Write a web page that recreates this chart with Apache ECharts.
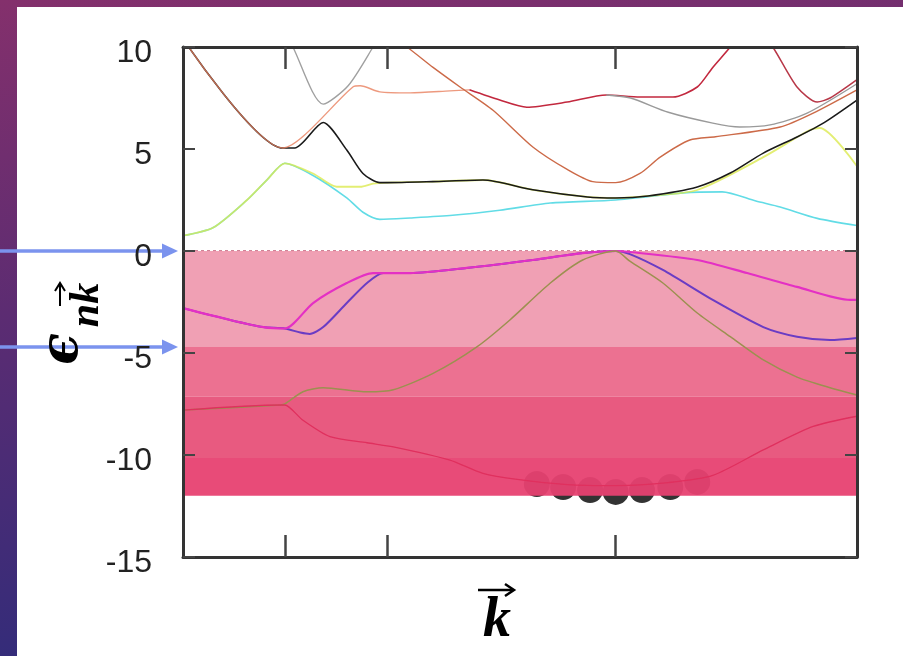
<!DOCTYPE html>
<html>
<head>
<meta charset="utf-8">
<script src="https://cdn.jsdelivr.net/npm/echarts@6/dist/echarts.min.js"></script>
<style>
  html, body { margin: 0; padding: 0; }
  body {
    width: 903px; height: 656px; overflow: hidden; position: relative;
    background: linear-gradient(172deg, #84306c 0%, #5c2c72 40%, #262c7c 100%);
  }
  #panel { position: absolute; left: 17px; top: 7px; right: 0; bottom: 0; background: #fff; }
  #chart { position: absolute; left: 0; top: 0; width: 903px; height: 656px; }
</style>
</head>
<body>
<div id="panel"></div>
<div id="chart"></div>
<script>
// k path (0..1), high-symmetry points
const kTicks = [0.151, 0.303, 0.642];

// conduction bands [k, E]
const cyanBand = [[0,0.75],[0.045,1.15],[0.095,2.5],[0.125,3.5],[0.151,4.3],[0.193,3.7],[0.243,2.6],[0.267,1.9],[0.292,1.55],[0.337,1.62],[0.40,1.75],[0.47,2.0],[0.545,2.35],[0.642,2.5],[0.742,2.85],[0.80,2.9],[0.85,2.45],[0.886,2.16],[0.941,1.6],[1.0,1.25]];
const yellowBand = [[0,0.75],[0.045,1.15],[0.095,2.5],[0.125,3.5],[0.151,4.3],[0.193,3.8],[0.228,3.15],[0.263,3.15],[0.282,3.3],[0.303,3.35],[0.37,3.4],[0.445,3.48],[0.519,3.0],[0.6,2.65],[0.642,2.6],[0.69,2.7],[0.763,2.99],[0.861,4.6],[0.93,5.93],[0.945,6.03],[1.0,4.15]];
const blackBand = [[0,10.4],[0.148,5.05],[0.166,5.05],[0.208,6.3],[0.243,4.95],[0.267,3.8],[0.292,3.35],[0.303,3.35],[0.37,3.4],[0.445,3.48],[0.519,3.0],[0.6,2.65],[0.642,2.6],[0.69,2.7],[0.763,3.14],[0.812,3.82],[0.861,4.8],[0.911,5.59],[0.95,6.27],[1.0,7.4]];
const orangeBand = [[0,10.4],[0.148,5.05],[0.252,8.04],[0.263,8.1],[0.292,7.8],[0.337,7.75],[0.396,7.85],[0.425,7.9]];
const crimsonBand = [[0.425,7.9],[0.47,7.4],[0.51,7.05],[0.57,7.3],[0.628,7.65],[0.678,7.55],[0.727,7.55],[0.763,8.04],[0.786,9.0],[0.812,10],[0.83,10.8]];
const brownBand = [[0.31,10.4],[0.332,10],[0.371,9.0],[0.411,8.04],[0.46,6.9],[0.519,5.1],[0.57,4.0],[0.608,3.4],[0.642,3.35],[0.678,3.8],[0.708,4.6],[0.752,5.44],[0.79,5.6],[0.886,6.08],[0.935,6.76],[1.0,7.9]];
const greyLeft = [[0.155,10.5],[0.163,10],[0.208,7.2],[0.245,8.1],[0.282,10],[0.29,10.5]];
const greyRight = [[0.628,7.65],[0.664,7.5],[0.72,6.8],[0.786,6.27],[0.826,6.08],[0.871,6.18],[0.926,6.76],[1.0,8.2]];
const redRight = [[0.86,10.5],[0.875,10],[0.911,8.04],[0.941,7.3],[0.96,7.5],[1.0,8.4]];

// valence bands [k, E]
const magentaBand = [[0,-2.8],[0.07,-3.38],[0.119,-3.73],[0.151,-3.8],[0.193,-2.55],[0.243,-1.57],[0.282,-1.08],[0.337,-1.08],[0.421,-0.83],[0.519,-0.44],[0.593,-0.1],[0.642,0],[0.663,-0.05],[0.763,-0.44],[0.837,-1.08],[0.911,-1.76],[0.99,-2.4],[1.0,-2.4]];
const purpleBand = [[0,-2.8],[0.07,-3.38],[0.119,-3.73],[0.151,-3.8],[0.174,-4.0],[0.188,-4.07],[0.208,-3.73],[0.243,-2.55],[0.273,-1.57],[0.297,-1.08],[0.337,-1.08],[0.421,-0.83],[0.519,-0.44],[0.593,-0.1],[0.642,0],[0.663,-0.15],[0.712,-0.93],[0.786,-2.4],[0.861,-3.73],[0.911,-4.2],[0.96,-4.36],[1.0,-4.26]];
const oliveBand = [[0,-7.8],[0.145,-7.55],[0.151,-7.5],[0.178,-6.9],[0.208,-6.7],[0.273,-6.9],[0.312,-6.8],[0.371,-6.0],[0.436,-4.7],[0.485,-3.38],[0.545,-1.57],[0.593,-0.44],[0.642,0],[0.663,-0.5],[0.712,-1.57],[0.763,-3.04],[0.812,-4.2],[0.861,-5.34],[0.911,-6.18],[0.96,-6.7],[1.0,-7.06]];
const redBand = [[0,-7.8],[0.145,-7.55],[0.151,-7.55],[0.178,-8.3],[0.218,-9.1],[0.273,-9.4],[0.312,-9.6],[0.396,-10.25],[0.445,-10.9],[0.496,-11.2],[0.57,-11.45],[0.642,-11.5],[0.72,-11.35],[0.786,-11.0],[0.861,-9.75],[0.935,-8.6],[1.0,-8.1]];

// electrons sitting at the bottom of the band
const electronK = [0.525, 0.564, 0.604, 0.642, 0.681, 0.723, 0.763];
const electronE = [-11.42, -11.57, -11.72, -11.81, -11.72, -11.57, -11.32];

// filled energy shading (top edges, common bottom)
const shadeTops = [0, -4.7, -7.15, -10.15];
const shadeBottom = -12;
const shadeColors = ['rgba(239,155,176,0.95)', 'rgba(235,105,139,0.95)', 'rgba(231,81,121,0.95)', 'rgba(231,65,113,0.95)'];

const chart = echarts.init(document.getElementById('chart'));

const frame = { color: '#333', width: 3 };

// lines sit on their own layer above the shading
function bandLine(data, color, width, opacity) {
  return {
    type: 'line', data: data, showSymbol: false, smooth: 0.25, zlevel: 1, z: 5, silent: true,
    lineStyle: { color: color, width: width || 1.5, opacity: opacity == null ? 1 : opacity }
  };
}

const shadeData = shadeTops.map((top, i) => [0, top, i < shadeTops.length - 1 ? shadeTops[i + 1] : shadeBottom]);

function xAxisCfg(pos) {
  return { type: 'value', min: 0, max: 1, position: pos, zlevel: 1, z: 10,
    axisLine: { onZero: false, lineStyle: frame },
    axisTick: { inside: true, length: 22, customValues: kTicks, lineStyle: { color: '#444', width: 2.5 } },
    axisLabel: { show: false }, splitLine: { show: false } };
}

const option = {
  animation: false,
  grid: { left: 183, right: 46, top: 47, bottom: 99 },
  xAxis: [xAxisCfg('bottom'), xAxisCfg('top')],
  yAxis: [
    { type: 'value', min: -15, max: 10, interval: 5, position: 'left', zlevel: 1, z: 10,
      axisLine: { show: true, onZero: false, lineStyle: frame },
      axisTick: { inside: true, length: 12, lineStyle: { color: '#444', width: 2 } },
      axisLabel: { margin: 31, formatter: '{v|{value}}',
        rich: { v: { fontSize: 32, color: '#222', fontFamily: 'Liberation Sans', padding: [12, 0, 0, 0] } } },
      splitLine: { show: false } },
    { type: 'value', min: -15, max: 10, interval: 5, position: 'right', zlevel: 1, z: 10,
      axisLine: { show: true, onZero: false, lineStyle: frame },
      axisTick: { inside: true, length: 12, lineStyle: { color: '#444', width: 2 } },
      axisLabel: { show: false }, splitLine: { show: false } }
  ],
  series: [
    { type: 'scatter', zlevel: 0, z: 1, silent: true, symbolSize: 26,
      itemStyle: { color: '#000' },
      data: electronK.map((k, i) => [k, electronE[i]]) },
    { type: 'custom', zlevel: 1, z: 1, silent: true, data: shadeData,
      encode: { x: 0, y: [1, 2] },
      renderItem: function (params, api) {
        const p1 = api.coord([0, api.value(1)]);
        const p2 = api.coord([1, api.value(2)]);
        return { type: 'rect', shape: { x: p1[0], y: p1[1], width: p2[0] - p1[0], height: p2[1] - p1[1] },
          style: { fill: shadeColors[params.dataIndex] } };
      },
      markLine: { silent: true, symbol: 'none', label: { show: false },
        lineStyle: { color: '#cf8497', width: 2, type: [3, 3] },
        data: [{ yAxis: 0 }] } },
    bandLine(cyanBand, '#62dce6', 1.6),
    bandLine(yellowBand, '#dcea50', 1.8, 0.8),
    bandLine(blackBand, '#1a1a1a', 1.6),
    bandLine(orangeBand, '#e8805e', 1.4, 0.8),
    bandLine(crimsonBand, '#c2283e', 1.6),
    bandLine(brownBand, '#cc6a48', 1.4),
    bandLine(greyLeft, '#a0a0a0', 1.4),
    bandLine(greyRight, '#9a9a9a', 1.4),
    bandLine(redRight, '#b83848', 1.5),
    bandLine(purpleBand, '#6a3cc4', 2),
    bandLine(magentaBand, '#e430c4', 2.2),
    bandLine(oliveBand, '#9c9050', 1.5),
    bandLine(redBand, '#e0305e', 1.3)
  ]
};

chart.setOption(option);

// annotations: arrows pointing at the shading edges, axis titles
const gridLeft = chart.convertToPixel({ xAxisIndex: 0 }, 0);
const arrowLevels = shadeTops.slice(0, 2);
const blue = '#7b93ee';
const graphics = [];
arrowLevels.forEach(v => {
  const y = chart.convertToPixel({ yAxisIndex: 0 }, v);
  const tip = gridLeft - 5;
  graphics.push({ type: 'line', silent: true, shape: { x1: 0, y1: y, x2: tip - 12, y2: y }, style: { stroke: blue, lineWidth: 3.5 } });
  graphics.push({ type: 'polygon', silent: true, shape: { points: [[tip - 16, y - 7.5], [tip, y], [tip - 16, y + 7.5]] }, style: { fill: blue } });
});

// y title: epsilon_{n k->}, rotated
graphics.push({ type: 'text', x: 63, y: 349, rotation: Math.PI / 2, silent: true,
  style: { text: 'ϵ', font: 'bold italic 52px "DejaVu Serif"', fill: '#000', align: 'center', verticalAlign: 'middle', textAlign: 'center', textVerticalAlign: 'middle' } });
graphics.push({ type: 'text', x: 87, y: 305, rotation: Math.PI / 2, silent: true,
  style: { text: 'nk', font: 'bold italic 42px "Liberation Serif"', fill: '#000', align: 'center', verticalAlign: 'middle', textAlign: 'center', textVerticalAlign: 'middle' } });
graphics.push({ type: 'line', silent: true, shape: { x1: 60, y1: 306, x2: 60, y2: 284 }, style: { stroke: '#000', lineWidth: 2 } });
graphics.push({ type: 'polyline', silent: true, shape: { points: [[55, 291], [60, 283], [65, 291]] }, style: { stroke: '#000', lineWidth: 2, fill: null } });

// x title: k with arrow
graphics.push({ type: 'text', x: 497, y: 622, silent: true,
  style: { text: 'k', font: 'bold italic 56px "Liberation Serif"', fill: '#000', align: 'center', verticalAlign: 'middle', textAlign: 'center', textVerticalAlign: 'middle' } });
graphics.push({ type: 'line', silent: true, shape: { x1: 478, y1: 590, x2: 513, y2: 590 }, style: { stroke: '#000', lineWidth: 2.5 } });
graphics.push({ type: 'polyline', silent: true, shape: { points: [[505, 584], [514, 590], [505, 596]] }, style: { stroke: '#000', lineWidth: 2.5, fill: null } });

chart.setOption({ graphic: graphics });
</script>
</body>
</html>
